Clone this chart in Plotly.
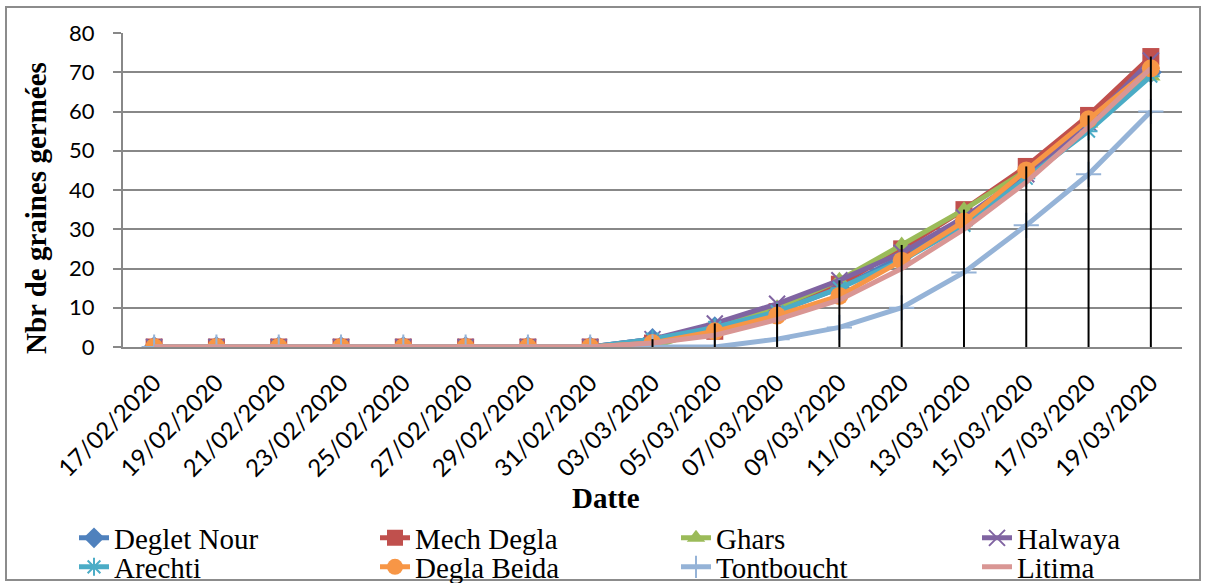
import plotly.graph_objects as go

# Sampling dates (category axis)
dates = ["17/02/2020", "19/02/2020", "21/02/2020", "23/02/2020", "25/02/2020",
         "27/02/2020", "29/02/2020", "31/02/2020", "03/03/2020", "05/03/2020",
         "07/03/2020", "09/03/2020", "11/03/2020", "13/03/2020", "15/03/2020",
         "17/03/2020", "19/03/2020"]

# Cumulative number of germinated seeds per cultivar
deglet_nour = [0, 0, 0, 0, 0, 0, 0, 0, 2, 5, 9, 15, 23, 32, 44, 57, 70]
mech_degla  = [0, 0, 0, 0, 0, 0, 0, 0, 1, 4, 9, 16, 25, 35, 46, 59, 74]
ghars       = [0, 0, 0, 0, 0, 0, 0, 0, 0, 5, 10, 17, 26, 35, 45, 57, 69]
halwaya     = [0, 0, 0, 0, 0, 0, 0, 0, 2, 6, 11, 17, 24, 33, 44, 57, 73]
arechti     = [0, 0, 0, 0, 0, 0, 0, 0, 2, 5, 9, 15, 22, 31, 43, 55, 69]
degla_beida = [0, 0, 0, 0, 0, 0, 0, 0, 1, 4, 8, 13, 22, 32, 45, 58, 71]
tontboucht  = [0, 0, 0, 0, 0, 0, 0, 0, 0, 0, 2, 5, 10, 19, 31, 44, 60]
litima      = [0, 0, 0, 0, 0, 0, 0, 0, 1, 3, 7, 12, 20, 30, 42, 56, 71]

y_ticks = [0, 10, 20, 30, 40, 50, 60, 70, 80]

series = [
    ("Deglet Nour", deglet_nour, "#4F81BD", "diamond", 17, None),
    ("Mech Degla", mech_degla, "#C0504D", "square", 17, None),
    ("Ghars", ghars, "#9BBB59", "triangle-up", 17, None),
    ("Halwaya", halwaya, "#8064A2", "x-thin-open", 16, 2),
    ("Arechti", arechti, "#4BACC6", "asterisk-open", 15, 2),
    ("Degla Beida", degla_beida, "#F79646", "circle", 18, None),
    ("Tontboucht", tontboucht, "#95B3D7", "cross-thin-open", 18, 2),
    ("Litima", litima, "#D99694", None, 0, None),
]

SERIF = "Liberation Serif, Times New Roman, serif"
SANS = "Lato, Carlito, sans-serif"

# legend slots: (text left x, row centre y) in window pixels
legend_slots = [(114, 538), (415, 538), (716, 538), (1017, 538),
                (114, 567), (415, 567), (716, 567), (1017, 567)]
legend_order = ["Deglet Nour", "Mech Degla", "Ghars", "Halwaya",
                "Arechti", "Degla Beida", "Tontboucht", "Litima"]

W, H = 1206, 583
L, R, T, B = 123, 24, 33, 236
PW, PH = W - L - R, H - T - B

fig = go.Figure()

layout_legends = {}
for i, (name, vals, color, sym, size, lw) in enumerate(series):
    slot = legend_order.index(name)
    lname = "legend" if slot == 0 else f"legend{slot + 1}"
    marker = dict(color=color, size=size)
    if sym is None:
        mode = "lines"
    else:
        mode = "lines+markers"
        marker["symbol"] = sym
        if lw:
            marker["line"] = dict(color=color, width=lw)
    fig.add_trace(go.Scatter(
        x=dates, y=vals, name=name, mode=mode,
        line=dict(color=color, width=5),
        marker=marker, legend=lname,
    ))
    tx, ty = legend_slots[slot]
    layout_legends[lname] = dict(
        xref="container", yref="container",
        x=(tx - 40) / W, y=1 - ty / H,
        xanchor="left", yanchor="middle",
        font=dict(family=SERIF, size=29, color="black"),
        bgcolor="rgba(0,0,0,0)", itemwidth=30, maxheight=120,
    )

# Drop lines from the highest series value down to the axis
all_vals = [s[1] for s in series]
dx, dy = [], []
for j, d in enumerate(dates):
    top = max(v[j] for v in all_vals)
    if top > 0:
        dx += [d, d, None]
        dy += [0, top, None]
fig.add_trace(go.Scatter(x=dx, y=dy, mode="lines",
                         line=dict(color="black", width=2),
                         showlegend=False, hoverinfo="skip"))

grid_col = "#888888"
fig.update_layout(
    width=W, height=H,
    margin=dict(l=L, r=R, t=T, b=B, autoexpand=False),
    paper_bgcolor="white", plot_bgcolor="white",
    showlegend=True,
    **layout_legends,
    xaxis=dict(
        type="category", categoryorder="array", categoryarray=dates,
        range=[-0.5, len(dates) - 0.5],
        tickangle=-45, showgrid=False, ticks="",
        showline=True, linecolor=grid_col, linewidth=2,
        ticklabelstandoff=10,
        tickfont=dict(family=SANS, size=24, color="black"),
        automargin=False,
    ),
    yaxis=dict(
        range=[0, 80], tickvals=y_ticks,
        showgrid=True, gridcolor=grid_col, gridwidth=2,
        showline=True, linecolor=grid_col, linewidth=2,
        ticks="outside", ticklen=8, tickcolor=grid_col, tickwidth=2,
        ticklabelstandoff=14,
        tickfont=dict(family=SANS, size=22, color="black"),
        zeroline=False, automargin=False,
    ),
)

def px_x(p):
    return (p - L) / PW

def px_y(p):
    return (H - B - p) / PH

# Axis titles
fig.add_annotation(text="<b>Datte</b>", x=px_x(606), y=px_y(498),
                   xref="paper", yref="paper", showarrow=False,
                   xanchor="center", yanchor="middle",
                   font=dict(family=SERIF, size=29, color="black"))
fig.add_annotation(text="<b>Nbr de graines germées</b>", x=px_x(36), y=px_y(208),
                   xref="paper", yref="paper", showarrow=False, textangle=-90,
                   xanchor="center", yanchor="middle",
                   font=dict(family=SERIF, size=29, color="black"))

# Chart frame
fig.add_shape(type="rect", xref="paper", yref="paper",
              x0=px_x(6), x1=px_x(1200), y0=px_y(580), y1=px_y(7),
              line=dict(color="#8c8c8c", width=2), fillcolor="rgba(0,0,0,0)",
              layer="below")

fig.write_html("out.html")
